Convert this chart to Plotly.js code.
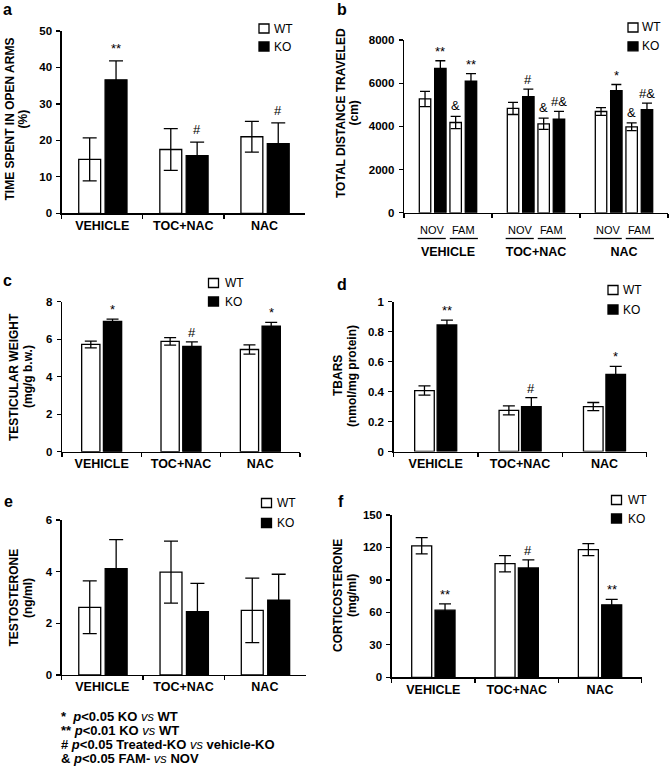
<!DOCTYPE html>
<html><head><meta charset="utf-8">
<script src="https://cdn.plot.ly/plotly-3.0.1.min.js"></script>
<style>html,body{margin:0;padding:0;background:#fff}#chart{width:671px;height:770px}</style>
</head><body><div id="chart"></div>
<script>
// ---------- DATA ----------
const groups = ['VEHICLE', 'TOC+NAC', 'NAC'];
const seriesNames = ['WT', 'KO'];

// a: time spent in open arms (%)
const openArmsWT = [14.8, 17.5, 21.0];
const openArmsWTErr = [5.9, 5.7, 4.2];
const openArmsKO = [36.6, 15.8, 19.1];
const openArmsKOErr = [5.2, 3.7, 5.7];
const openArmsSigKO = ['**', '#', '#'];

// b: total distance traveled (cm), NOV / FAM
const sessions = ['NOV', 'FAM'];
const distWTNov = [5270, 4830, 4690];
const distWTNovErr = [355, 280, 180];
const distKONov = [6680, 5380, 5660];
const distKONovErr = [360, 350, 280];
const distWTFam = [4180, 4120, 3980];
const distWTFamErr = [285, 260, 180];
const distKOFam = [6100, 4330, 4770];
const distKOFamErr = [340, 370, 310];
const distSigKONov = ['**', '#', '*'];
const distSigWTFam = ['&amp;', '&amp;', '&amp;'];
const distSigKOFam = ['**', '#&amp;', '#&amp;'];

// c: testicular weight (mg/g b.w.)
const testisWT = [5.72, 5.88, 5.45];
const testisWTErr = [0.18, 0.2, 0.25];
const testisKO = [6.95, 5.62, 6.70];
const testisKOErr = [0.12, 0.24, 0.2];
const testisSigKO = ['*', '#', '*'];

// d: TBARS (nmol/mg protein)
const tbarsWT = [0.407, 0.275, 0.30];
const tbarsWTErr = [0.031, 0.03, 0.027];
const tbarsKO = [0.845, 0.30, 0.515];
const tbarsKOErr = [0.032, 0.06, 0.053];
const tbarsSigKO = ['**', '#', '*'];

// e: testosterone (ng/ml)
const testoWT = [2.62, 3.98, 2.50];
const testoWTErr = [1.02, 1.2, 1.25];
const testoKO = [4.12, 2.45, 2.90];
const testoKOErr = [1.12, 1.1, 1.0];

// f: corticosterone (mg/ml)
const corticoWT = [121.5, 105, 118];
const corticoWTErr = [7.5, 7.5, 5.5];
const corticoKO = [62, 101, 67];
const corticoKOErr = [5.8, 7.5, 5];
const corticoSigKO = ['**', '#', '**'];

const footnotes = [
  '<b>*  <i>p</i>&lt;0.05 KO </b><i>vs</i><b> WT</b>',
  '<b>** <i>p</i>&lt;0.01 KO </b><i>vs</i><b> WT</b>',
  '<b># <i>p</i>&lt;0.05 Treated-KO </b><i>vs</i><b> vehicle-KO</b>',
  '<b>&amp; <i>p</i>&lt;0.05 FAM- </b><i>vs</i><b> NOV</b>'
];

// ---------- HELPERS ----------
const W = 671, H = 770;
const px = v => v / W;
const py = v => 1 - v / H;
const FONT = 'Liberation Sans, Arial, sans-serif';
const BLACK = '#000';

function xAxis(x0, x1, anchor, extra) {
  return Object.assign({
    domain: [px(x0), px(x1)], anchor: anchor, type: 'category',
    categoryorder: 'array', categoryarray: groups,
    range: [-0.5, 2.5], tickson: 'boundaries', ticks: 'outside', ticklen: 4,
    tickwidth: 1.3, tickcolor: BLACK, showline: true, linecolor: BLACK, linewidth: 1.3,
    showgrid: false, zeroline: false, fixedrange: true,
    tickfont: {family: FONT, size: 12.5, color: BLACK, weight: 700}
  }, extra || {});
}
function yAxis(top, bottom, anchor, max, dtick, extra) {
  return Object.assign({
    domain: [py(bottom), py(top)], anchor: anchor, range: [0, max], tick0: 0, dtick: dtick,
    ticks: 'outside', ticklen: 4, tickwidth: 1.3, tickcolor: BLACK,
    showline: true, linecolor: BLACK, linewidth: 1.3, showgrid: false, zeroline: false,
    fixedrange: true, ticklabelstandoff: 2,
    tickfont: {family: FONT, size: 11.5, color: BLACK, weight: 700}
  }, extra || {});
}
function bar(xa, ya, y, err, fill, offset, width, cap) {
  return {
    type: 'bar', x: groups, y: y, xaxis: xa, yaxis: ya, offset: offset, width: width,
    marker: {color: fill, line: {color: BLACK, width: 1.3}},
    error_y: {type: 'data', array: err, visible: true, color: BLACK, thickness: 1.3, width: cap},
    showlegend: false, hoverinfo: 'skip'
  };
}
function sig(xa, ya, y, err, marks, center, shift) {
  const out = [];
  marks.forEach((m, i) => {
    if (!m) return;
    out.push({xref: xa, yref: ya, x: i + center, y: y[i] + err[i], text: m, showarrow: false,
      xanchor: 'center', yanchor: 'bottom', yshift: shift || 0,
      font: {family: FONT, size: 13, color: BLACK}});
  });
  return out;
}
function paperText(text, x, y, opts) {
  return Object.assign({xref: 'paper', yref: 'paper', x: px(x), y: py(y), text: text,
    showarrow: false, xanchor: 'center', yanchor: 'middle',
    font: {family: FONT, size: 12, color: BLACK}}, opts || {});
}
function yTitle(line1, line2, x1, x2, yc) {
  const f = {family: FONT, size: 12, color: BLACK, weight: 700};
  return [paperText(line1, x1, yc, {textangle: -90, font: f}),
          paperText(line2, x2, yc, {textangle: -90, font: f})];
}
function legendItems(bx, y1, y2, tx) {
  const shapes = [], ann = [];
  [[y1, '#fff', seriesNames[0]], [y2, '#000', seriesNames[1]]].forEach(([yc, fill, name]) => {
    shapes.push({type: 'rect', xref: 'paper', yref: 'paper',
      x0: px(bx - 5), x1: px(bx + 5), y0: py(yc + 4.5), y1: py(yc - 4.5),
      fillcolor: fill, line: {color: BLACK, width: 1.3}});
    ann.push(paperText(name, tx, yc, {xanchor: 'left', font: {family: FONT, size: 12, color: BLACK}}));
  });
  return {shapes, ann};
}

// ---------- TRACES ----------
const wideW = 0.27, wtOffA = -0.29, koOffA = 0.035;
const bW = 0.13;
const bOff = [-0.326, -0.152, 0.022, 0.196];
const cW = 0.23, cOff = [-0.252, 0.022];
const dW = 0.232, dOff = [-0.249, 0.017];
const fW = 0.24, fOff = [-0.26, 0.02];

const data = [
  bar('x', 'y', openArmsWT, openArmsWTErr, '#fff', wtOffA, wideW, 7),
  bar('x', 'y', openArmsKO, openArmsKOErr, '#000', koOffA, wideW, 7),
  bar('x2', 'y2', distWTNov, distWTNovErr, '#fff', bOff[0], bW, 5),
  bar('x2', 'y2', distKONov, distKONovErr, '#000', bOff[1], bW, 5),
  bar('x2', 'y2', distWTFam, distWTFamErr, '#fff', bOff[2], bW, 5),
  bar('x2', 'y2', distKOFam, distKOFamErr, '#000', bOff[3], bW, 5),
  bar('x3', 'y3', testisWT, testisWTErr, '#fff', cOff[0], cW, 6),
  bar('x3', 'y3', testisKO, testisKOErr, '#000', cOff[1], cW, 6),
  bar('x4', 'y4', tbarsWT, tbarsWTErr, '#fff', dOff[0], dW, 6),
  bar('x4', 'y4', tbarsKO, tbarsKOErr, '#000', dOff[1], dW, 6),
  bar('x5', 'y5', testoWT, testoWTErr, '#fff', wtOffA, wideW, 7),
  bar('x5', 'y5', testoKO, testoKOErr, '#000', koOffA, wideW, 7),
  bar('x6', 'y6', corticoWT, corticoWTErr, '#fff', fOff[0], fW, 6),
  bar('x6', 'y6', corticoKO, corticoKOErr, '#000', fOff[1], fW, 6)
];

// ---------- ANNOTATIONS ----------
let annotations = [];
let shapes = [];
annotations = annotations.concat(
  sig('x', 'y', openArmsKO, openArmsKOErr, openArmsSigKO, koOffA + wideW / 2, 3),
  sig('x2', 'y2', distKONov, distKONovErr, distSigKONov, bOff[1] + bW / 2, 0),
  sig('x2', 'y2', distWTFam, distWTFamErr, distSigWTFam, bOff[2] + bW / 2, 1),
  sig('x2', 'y2', distKOFam, distKOFamErr, distSigKOFam, bOff[3] + bW / 2, 0),
  sig('x3', 'y3', testisKO, testisKOErr, testisSigKO, cOff[1] + cW / 2, 0),
  sig('x4', 'y4', tbarsKO, tbarsKOErr, tbarsSigKO, dOff[1] + dW / 2, 0),
  sig('x6', 'y6', corticoKO, corticoKOErr, corticoSigKO, fOff[1] + fW / 2, 0)
);

// NOV / FAM sub labels with underlines (panel b)
groups.forEach((g, i) => {
  sessions.forEach((s, k) => {
    const c = i + (k === 0 ? -0.174 : 0.174);
    annotations.push({xref: 'x2', yref: 'paper', x: c, y: py(230), text: s, showarrow: false,
      xanchor: 'center', yanchor: 'middle', font: {family: FONT, size: 11, color: BLACK}});
    shapes.push({type: 'line', xref: 'x2', yref: 'paper',
      x0: i + (k === 0 ? -0.345 : 0.02), x1: i + (k === 0 ? -0.025 : 0.34),
      y0: py(238.5), y1: py(238.5), line: {color: BLACK, width: 1.3}});
  });
});

// y titles
annotations = annotations.concat(
  yTitle('TIME SPENT IN OPEN ARMS', '(%)', 9.5, 22.5, 119),
  yTitle('TOTAL DISTANCE TRAVELED', '(cm)', 341, 353.5, 113),
  yTitle('TESTICULAR WEIGHT', '(mg/g b.w.)', 14, 28, 377),
  yTitle('TBARS', '(nmol/mg protein)', 338, 352, 376),
  yTitle('TESTOSTERONE', '(ng/ml)', 13.5, 28, 598),
  yTitle('CORTICOSTERONE', '(mg/ml)', 338, 352, 596)
);

// panel letters
const letterFont = {family: FONT, size: 16, color: BLACK, weight: 700};
[['a', 2, 0], ['b', 336, 0]].forEach(([t, x, y]) =>
  annotations.push(paperText(t, x, y, {font: letterFont, xanchor: 'left', yanchor: 'top', borderpad: 0})));
[['c', 1, 281], ['d', 335, 284], ['e', 2, 501], ['f', 336, 501]]
  .forEach(([t, x, y]) => annotations.push(paperText(t, x, y, {font: letterFont, xanchor: 'left'})));

// legends
[[264, 28.5, 46.5, 272], [633, 27.5, 46.3, 640], [213.5, 283, 301.5, 223],
 [613, 290, 309.5, 621], [266.5, 503, 523, 275], [616.5, 500, 518.5, 626]].forEach(([bx, y1, y2, tx]) => {
  const l = legendItems(bx, y1, y2, tx);
  shapes = shapes.concat(l.shapes);
  annotations = annotations.concat(l.ann);
});

// footnotes
[716.5, 730.5, 744.5, 758].forEach((y, i) => {
  annotations.push(paperText(footnotes[i], 59, y, {xanchor: 'left',
    font: {family: FONT, size: 13, color: BLACK}}));
});

const layout = {
  width: W, height: H, margin: {l: 0, r: 0, t: 0, b: 0},
  paper_bgcolor: '#fff', plot_bgcolor: '#fff', showlegend: false, barmode: 'overlay',
  font: {family: FONT, color: BLACK},
  xaxis: xAxis(61.7, 305, 'y'),
  yaxis: yAxis(31, 213.3, 'x', 50, 10),
  xaxis2: xAxis(404, 668, 'y2', {ticklabelstandoff: 27}),
  yaxis2: yAxis(40, 212.8, 'x2', 8000, 2000),
  xaxis3: xAxis(62, 300, 'y3'),
  yaxis3: yAxis(301.7, 451.7, 'x3', 8, 2),
  xaxis4: xAxis(393.5, 646.7, 'y4'),
  yaxis4: yAxis(301.7, 451.5, 'x4', 1, 0.2),
  xaxis5: xAxis(61.7, 305.5, 'y5'),
  yaxis5: yAxis(520, 675, 'x5', 6, 2),
  xaxis6: xAxis(391.7, 641.7, 'y6'),
  yaxis6: yAxis(515, 677.3, 'x6', 150, 30),
  annotations: annotations,
  shapes: shapes
};

Plotly.newPlot('chart', data, layout, {staticPlot: true, displayModeBar: false});
</script></body></html>
